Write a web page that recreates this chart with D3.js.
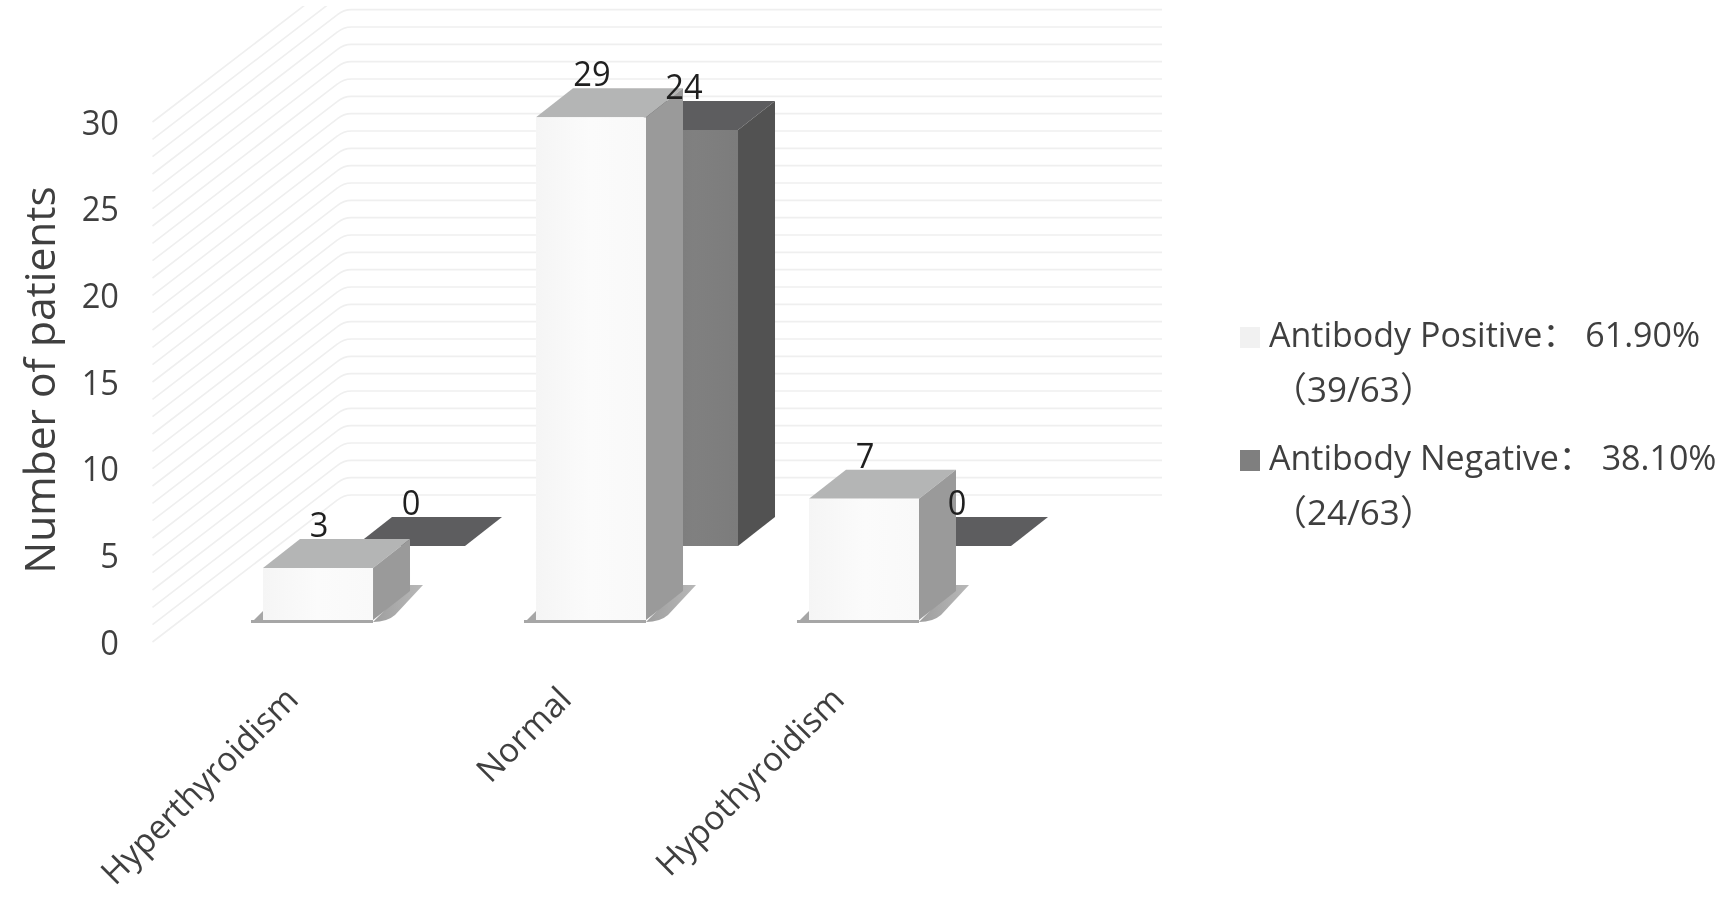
<!DOCTYPE html>
<html><head><meta charset="utf-8">
<script src="https://cdn.jsdelivr.net/npm/d3@7/dist/d3.min.js"></script>
<style>html,body{margin:0;padding:0;background:#fff}svg{display:block;filter:blur(.5px)}text{font-family:"Open Sans",sans-serif;fill:#3f3f3f}</style>
</head><body><svg id="c" width="1729" height="898"></svg>
<script>
const categories=["Hyperthyroidism","Normal","Hypothyroidism"];
const positive=[3,29,7];
const negative=[0,24,0];
const yTicks=[0,5,10,15,20,25,30];
const gridValues=d3.range(0,31);
const legendRows=[["Antibody Positive： 61.90%","（39/63）"],["Antibody Negative： 38.10%","（24/63）"]];
const axisTitle="Number of patients";

const svg=d3.select("#c");
const defs=svg.append("defs");
defs.append("clipPath").attr("id","plot").append("rect").attr("x",0).attr("y",6).attr("width",1729).attr("height",892);
function grad(id,stops){const g=defs.append("linearGradient").attr("id",id);stops.forEach(([o,c])=>g.append("stop").attr("offset",o).attr("stop-color",c));}
grad("f1",[[0,"#f5f5f5"],[.5,"#fbfbfb"],[1,"#f9f9f9"]]);
grad("f2",[[0,"#747474"],[.6,"#808080"],[1,"#7c7c7c"]]);
grad("sh",[[0,"#9e9e9e"],[1,"#b8b8b8"]]);

// scales
const yWall=d3.scaleLinear().domain([0,30]).range([642,122]);
const unit=yWall(0)-yWall(1);
const x=d3.scaleBand().domain(categories).range([263,919]).paddingInner(.597).paddingOuter(0);
const depth={dx:37,dy:-29};
const wallShift={dx:191,dy:-147};
const s2Shift={dx:92,dy:-74};
const baseY=620;
const h=v=>v*unit;

// walls
const grid=svg.append("g").attr("clip-path","url(#plot)").attr("fill","none").attr("stroke","#efefef").attr("stroke-width",1.6);
const gx0=152.5,gxEnd=1162;
grid.selectAll("path").data(gridValues).join("path")
  .attr("d",v=>{const y0=yWall(v);const yb=y0+wallShift.dy;return `M${gx0},${y0}L${gx0+wallShift.dx-6},${yb+5}Q${gx0+wallShift.dx},${yb} ${gx0+wallShift.dx+8},${yb}L${gxEnd},${yb}`;});

// y axis
const ax=svg.append("g").attr("transform","translate(119,2)")
  .call(d3.axisLeft(yWall).tickValues(yTicks).tickSize(0).tickPadding(0).tickFormat(d3.format("d")));
ax.select(".domain").remove();
ax.selectAll("text").style("font-size","34px").style("font-family",'"Open Sans",sans-serif').attr("fill","#3f3f3f").attr("transform","translate(0,-1) scale(.96,1.04)");

// bars
function box(g,xl,yb,v,w,c){
  const t=yb-h(v),d=depth;
  g.append("polygon").attr("points",[[xl,t],[xl+d.dx,t+d.dy],[xl+w+d.dx,t+d.dy],[xl+w,t]].join(" ")).attr("fill",c.top);
  if(v>0){
    g.append("polygon").attr("points",[[xl+w,t],[xl+w+d.dx,t+d.dy],[xl+w+d.dx,yb+d.dy],[xl+w,yb]].join(" ")).attr("fill",c.side);
    g.append("rect").attr("x",xl).attr("y",t).attr("width",w).attr("height",h(v)).attr("fill",c.front);
  }
}
const w=x.bandwidth();
const negG=svg.append("g"),posG=svg.append("g");
categories.forEach((c,i)=>box(negG,x(c)+s2Shift.dx,baseY+s2Shift.dy,negative[i],w,{top:"#5d5d5f",side:"#525252",front:"url(#f2)"}));
categories.forEach((c,i)=>{
  const xl=x(c),xr=xl+w;
  posG.append("polygon").attr("points",[[xl-12,baseY+3],[xl,baseY-9],[xl,baseY+3]].join(" ")).attr("fill","#a6a6a6");
  posG.append("rect").attr("x",xl-12).attr("y",baseY).attr("width",w+12).attr("height",3).attr("fill","#a6a6a6");
  posG.append("path").attr("d",`M${xr},${baseY+2}Q${xr+14},${baseY+2} ${xr+22},${baseY-5}L${xr+depth.dx+13},${baseY+depth.dy-6}L${xr+depth.dx},${baseY+depth.dy-6}Z`).attr("fill","url(#sh)");
  box(posG,xl,baseY,positive[i],w,{top:"#b4b5b5",side:"#9a9a9a",front:"url(#f1)"});
});

// data labels
const lab=svg.append("g").attr("text-anchor","middle").style("font-size","34px");
function labels(vals,sh){
  lab.selectAll(null).data(vals).join("text")
    .attr("transform",(v,i)=>`translate(${x(categories[i])+w/2+sh.dx+1},${baseY+sh.dy-h(v)-31}) scale(.96,1.04)`)
    .style("fill","#1f1f1f").text(v=>v);
}
labels(positive,{dx:0,dy:0});
labels(negative,s2Shift);

// category axis
const xa=svg.append("g").attr("transform","translate(-26,693)").call(d3.axisBottom(x).tickSize(0).tickPadding(0));
xa.select(".domain").remove();
xa.selectAll("text").style("font-size","33.5px").style("font-family",'"Open Sans",sans-serif').attr("fill","#3f3f3f")
  .attr("text-anchor","end").attr("dy","0.35em").attr("y",0).attr("transform","rotate(-45)");

// y title
svg.append("text").attr("transform","translate(55,380) rotate(-90)").attr("text-anchor","middle").style("font-size","42.5px").text(axisTitle);

// legend
const legColors=["#f1f1f1","#7f7f7f"];
const legY=[347,470];
legendRows.forEach((r,i)=>{
  svg.append("rect").attr("x",1240).attr("y",legY[i]-20).attr("width",20).attr("height",21).attr("fill",legColors[i]);
  svg.append("text").attr("x",1269).attr("y",legY[i]).style("font-size","34px").style("font-family",'"Open Sans","Noto Sans CJK SC",sans-serif').style("white-space","pre").text(r[0]);
  svg.append("text").attr("x",1272).attr("y",legY[i]+55).style("font-size","35px").style("font-family",'"Open Sans","Noto Sans CJK SC",sans-serif').text(r[1]);
});
</script></body></html>
